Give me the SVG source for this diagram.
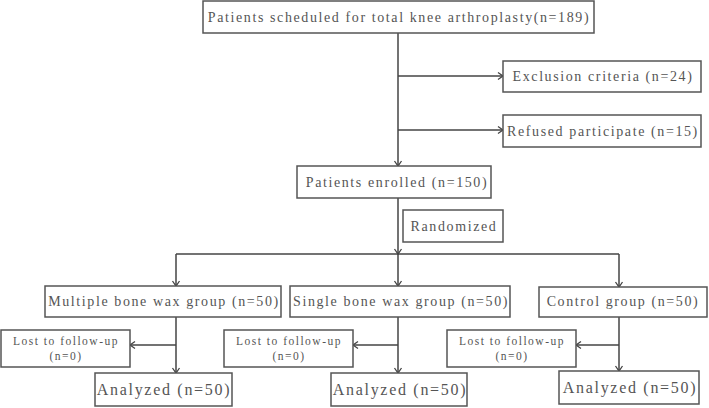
<svg xmlns="http://www.w3.org/2000/svg" width="709" height="408" viewBox="0 0 709 408">
<defs>
<style>
.box{fill:#fff;stroke:#555;stroke-width:1.5}
.t{font-family:"Liberation Serif","Times New Roman",serif;font-size:14px;fill:#555;letter-spacing:1.6px;text-anchor:middle}
.b{font-family:"Liberation Serif","Times New Roman",serif;font-size:16px;fill:#555;letter-spacing:1.7px;text-anchor:middle}
.s{font-family:"Liberation Serif","Times New Roman",serif;font-size:11.5px;fill:#555;letter-spacing:1.5px;text-anchor:middle}
.c{fill:none;stroke:#444;stroke-width:1.5}
</style>
<marker id="a" markerWidth="10" markerHeight="10" refX="8" refY="5" orient="auto" markerUnits="userSpaceOnUse">
<polyline points="3,1.5 8,5 3,8.5" fill="none" stroke="#444" stroke-width="1.3"/>
</marker>
</defs>
<rect width="709" height="408" fill="#fff"/>
<g id="connectors">
<line class="c" x1="398" y1="33" x2="398" y2="166" marker-end="url(#a)"/>
<line class="c" x1="398" y1="76" x2="503" y2="76" marker-end="url(#a)"/>
<line class="c" x1="398" y1="130" x2="503" y2="130" marker-end="url(#a)"/>
<line class="c" x1="398" y1="198" x2="398" y2="254" marker-end="url(#a)"/>
<line class="c" x1="176" y1="254" x2="619" y2="254"/>
<line class="c" x1="176" y1="254" x2="176" y2="286" marker-end="url(#a)"/>
<line class="c" x1="398" y1="254" x2="398" y2="286" marker-end="url(#a)"/>
<line class="c" x1="619" y1="254" x2="619" y2="287" marker-end="url(#a)"/>
<line class="c" x1="176" y1="317" x2="176" y2="373" marker-end="url(#a)"/>
<line class="c" x1="398" y1="317" x2="398" y2="373" marker-end="url(#a)"/>
<line class="c" x1="619" y1="317" x2="619" y2="371" marker-end="url(#a)"/>
<line class="c" x1="176" y1="345" x2="130" y2="345" marker-end="url(#a)"/>
<line class="c" x1="398" y1="345" x2="353" y2="345" marker-end="url(#a)"/>
<line class="c" x1="619" y1="345" x2="576" y2="345" marker-end="url(#a)"/>
</g>
<g id="top"><rect class="box" x="203" y="1" width="391" height="32"/><text class="t" x="399" y="22">Patients scheduled for total knee arthroplasty(n=189)</text></g>
<g id="exclusion"><rect class="box" x="503" y="61" width="198" height="31"/><text class="t" x="603" y="81">Exclusion criteria (n=24)</text></g>
<g id="refused"><rect class="box" x="503" y="115" width="198" height="32"/><text class="t" x="603" y="136">Refused participate (n=15)</text></g>
<g id="enrolled"><rect class="box" x="297" y="166" width="194" height="32"/><text class="t" x="397" y="187">Patients enrolled (n=150)</text></g>
<g id="randomized"><rect class="box" x="403" y="210" width="100" height="32"/><text class="t" x="454" y="231">Randomized</text></g>
<g id="multiple"><rect class="box" x="45" y="286" width="236" height="31"/><text class="t" x="164" y="306">Multiple bone wax group (n=50)</text></g>
<g id="single"><rect class="box" x="290" y="286" width="220" height="31"/><text class="t" x="401" y="306">Single bone wax group (n=50)</text></g>
<g id="control"><rect class="box" x="539" y="287" width="168" height="30"/><text class="t" x="623" y="306">Control group (n=50)</text></g>
<g id="lost1"><rect class="box" x="1" y="330" width="129" height="37"/><text class="s" x="66" y="345">Lost to follow-up</text><text class="s" x="66" y="360">(n=0)</text></g>
<g id="lost2"><rect class="box" x="224" y="330" width="129" height="37"/><text class="s" x="289" y="345">Lost to follow-up</text><text class="s" x="289" y="360">(n=0)</text></g>
<g id="lost3"><rect class="box" x="447" y="330" width="129" height="37"/><text class="s" x="512" y="345">Lost to follow-up</text><text class="s" x="512" y="360">(n=0)</text></g>
<g id="analyzed1"><rect class="box" x="95" y="373" width="137" height="33"/><text class="b" x="164" y="395">Analyzed (n=50)</text></g>
<g id="analyzed2"><rect class="box" x="331" y="373" width="136" height="33"/><text class="b" x="400" y="395">Analyzed (n=50)</text></g>
<g id="analyzed3"><rect class="box" x="559" y="371" width="140" height="33"/><text class="b" x="630" y="393">Analyzed (n=50)</text></g>
</svg>
